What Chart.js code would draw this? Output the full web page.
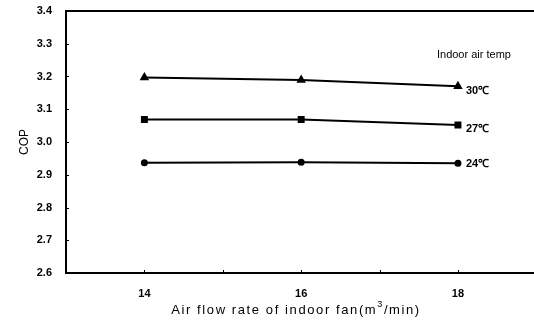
<!DOCTYPE html>
<html><head><meta charset="utf-8">
<script src="https://cdn.jsdelivr.net/npm/chart.js@4"></script>
<style>html,body{margin:0;padding:0;background:#fff}#wrap{width:534px;height:322px}</style>
</head><body><div id="wrap"><canvas id="c" width="534" height="322"></canvas></div>
<script>
const airFlow = [14, 16, 18];
const cop30 = [3.197, 3.189, 3.170];
const cop27 = [3.069, 3.069, 3.052];
const cop24 = [2.937, 2.938, 2.935];
const seriesLabels = ['30℃', '27℃', '24℃'];
const legendTitle = 'Indoor air temp';
const xTitleMain = 'Air flow rate of indoor fan(m';
const xTitleSup = '3';
const xTitleEnd = '/min)';
const xTicks = [14, 16, 18];
const yTicks = [2.6, 2.7, 2.8, 2.9, 3.0, 3.1, 3.2, 3.3, 3.4];

const FONT = '"Liberation Sans", Arial, sans-serif';

const mk = (vals, style, r) => ({
  label: '', data: airFlow.map((x, i) => ({x, y: vals[i]})),
  borderColor: '#000', backgroundColor: '#000', borderWidth: 2,
  pointStyle: style, pointRadius: r, pointHoverRadius: r, tension: 0
});

const framePlugin = {
  id: 'frame',
  afterDraw(chart) {
    const {ctx, chartArea: a, scales: {x, y}} = chart;
    ctx.save();
    ctx.strokeStyle = '#000';
    ctx.lineWidth = 2;
    ctx.beginPath();
    ctx.moveTo(a.right + 2, a.top); ctx.lineTo(a.left, a.top);
    ctx.lineTo(a.left, a.bottom); ctx.lineTo(a.right + 2, a.bottom);
    ctx.stroke();
    ctx.lineWidth = 1;
    ctx.beginPath();
    for (let v = 14; v <= 18; v++) {
      const px = Math.round(x.getPixelForValue(v)) + 0.5;
      ctx.moveTo(px, a.bottom); ctx.lineTo(px, a.bottom - 3);
    }
    yTicks.forEach(v => {
      const py = Math.round(y.getPixelForValue(v)) + 0.5;
      ctx.moveTo(a.left, py); ctx.lineTo(a.left + 3, py);
    });
    ctx.stroke();
    // series labels
    ctx.fillStyle = '#000';
    ctx.textBaseline = 'middle';
    ctx.textAlign = 'left';
    ctx.font = 'bold 11px ' + FONT;
    const lastX = x.getPixelForValue(airFlow[airFlow.length - 1]);
    const ends = [cop30, cop27, cop24];
    const offs = [5, 4, 1];
    ends.forEach((s, i) => {
      ctx.fillText(seriesLabels[i], lastX + 8, y.getPixelForValue(s[s.length - 1]) + offs[i]);
    });
    ctx.font = '11px ' + FONT;
    ctx.fillText(legendTitle, lastX - 21, y.getPixelForValue(3.266));
    // x axis title with superscript
    ctx.letterSpacing = '1.6px';
    ctx.font = '13px ' + FONT;
    const w1 = ctx.measureText(xTitleMain).width;
    const w3 = ctx.measureText(xTitleEnd).width;
    ctx.font = '9px ' + FONT;
    const w2 = ctx.measureText(xTitleSup).width;
    const total = w1 + w2 + w3;
    let tx = (a.left + a.right) / 2 - 4 - total / 2;
    const ty = a.bottom + 37;
    ctx.font = '13px ' + FONT;
    ctx.fillText(xTitleMain, tx, ty); tx += w1;
    ctx.font = '9px ' + FONT;
    ctx.fillText(xTitleSup, tx, ty - 5); tx += w2;
    ctx.font = '13px ' + FONT;
    ctx.fillText(xTitleEnd, tx, ty);
    ctx.restore();
  }
};

new Chart(document.getElementById('c'), {
  type: 'line',
  data: { datasets: [mk(cop30, 'triangle', 3.5), mk(cop27, 'rect', 3.5), mk(cop24, 'circle', 2.5)] },
  options: {
    responsive: false, animation: false,
    layout: { autoPadding: false, padding: { left: 0, right: 0, top: 11, bottom: 0 } },
    plugins: { legend: { display: false }, tooltip: { enabled: false } },
    scales: {
      x: {
        type: 'linear', min: 13, max: 18.97,
        afterBuildTicks(s) { s.ticks = xTicks.map(v => ({value: v})); },
        afterFit(s) { s.height = 49; s.paddingLeft = 0; s.paddingRight = 0; },
        grid: { display: false, drawTicks: false },
        border: { display: false },
        ticks: { color: '#000', font: { family: FONT, size: 11, weight: 'bold' }, padding: 14 },
        title: { display: false }
      },
      y: {
        min: 2.6, max: 3.4,
        afterBuildTicks(s) { s.ticks = yTicks.map(v => ({value: v})); },
        afterFit(s) { s.width = 66; s.paddingTop = 0; s.paddingBottom = 0; },
        grid: { display: false, drawTicks: false },
        border: { display: false },
        ticks: { color: '#000', font: { family: FONT, size: 11, weight: 'bold' }, padding: 14,
                 callback: v => v.toFixed(1) },
        title: { display: true, text: 'COP', color: '#000', font: { family: FONT, size: 12 }, padding: { top: 17, bottom: 0 } }
      }
    }
  },
  plugins: [framePlugin]
});
</script></body></html>
